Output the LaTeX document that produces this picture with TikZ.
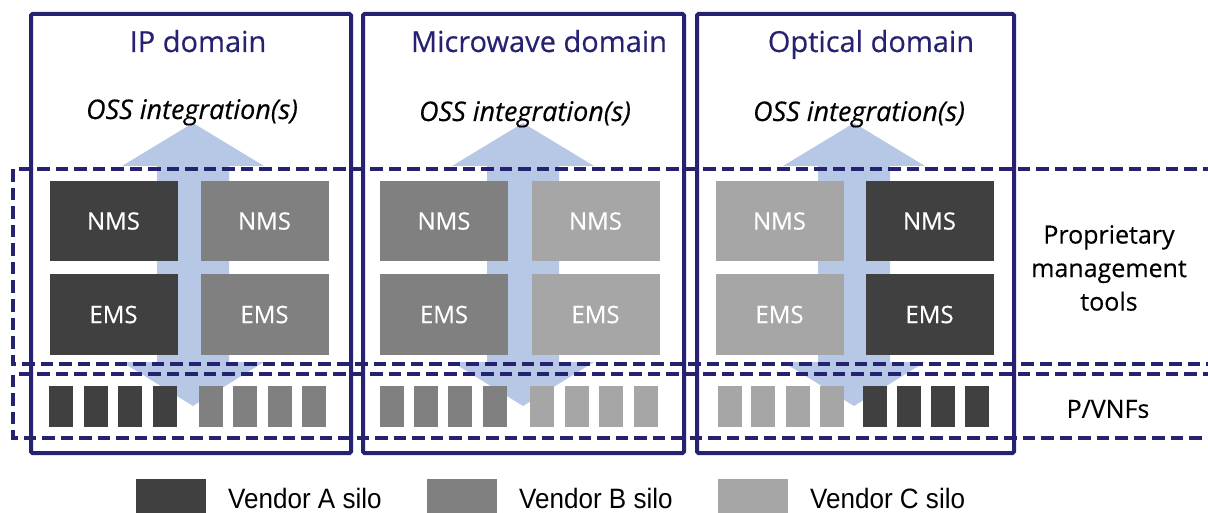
\documentclass[tikz,border=0pt]{standalone}
\usepackage{fontspec}
\setmainfont[FakeBold=0.35]{Open Sans}
\newfontfamily\legendfont[FakeStretch=0.93]{Liberation Sans}
\definecolor{navy}{RGB}{38,34,114}
\definecolor{vendA}{RGB}{64,64,64}
\definecolor{vendB}{RGB}{128,128,128}
\definecolor{vendC}{RGB}{166,166,166}
\definecolor{ossblue}{RGB}{182,200,230}
\tikzset{
  domainbox/.style={draw=navy, line width=4pt, rounded corners=1.5pt},
  layerline/.style={draw=navy, line width=3.8pt, dash pattern=on 12.5pt off 6pt},
  mgmt/.style={rectangle, minimum width=128pt, minimum height=80pt, inner sep=0pt,
    text=white, font=\fontsize{24}{28}\selectfont},
  vnf/.style={rectangle, minimum width=24pt, minimum height=41pt, inner sep=0pt},
  swatch/.style={rectangle, minimum width=70pt, minimum height=34pt, inner sep=0pt},
  domaintitle/.style={anchor=base, inner sep=0pt, text=navy, font=\fontsize{29}{34}\selectfont},
  osslabel/.style={anchor=base, inner sep=0pt, font=\fontsize{27}{32}\selectfont\itshape},
  sidelabel/.style={align=center, font=\fontsize{25}{33.5}\selectfont},
  legendtext/.style={anchor=base west, inner sep=0pt, font=\legendfont\fontsize{28}{32}\selectfont}
}
\begin{document}
\begin{tikzpicture}[x=1pt, y=-1pt]
\useasboundingbox (0,0) rectangle (1208,513);
\begin{scope}
\clip (0,0) rectangle (1208,513);

% double-headed OSS integration arrows, one per domain
\foreach \cx in {193,523,854} {
  \fill[ossblue] (\cx,123) -- (\cx+71,166) -- (\cx+36,166) -- (\cx+36,362)
    -- (\cx+71,362) -- (\cx,406) -- (\cx-71,362) -- (\cx-36,362)
    -- (\cx-36,166) -- (\cx-71,166) -- cycle;
}

% management tools (NMS / EMS)
\node[mgmt, fill=vendA] (ipnmsa) at (113.5,221) {NMS};
\node[mgmt, fill=vendB] (ipnmsb) at (264.5,221) {NMS};
\node[mgmt, fill=vendA] (ipemsa) at (113.5,314.5) {EMS};
\node[mgmt, fill=vendB] (ipemsb) at (264.5,314.5) {EMS};

\node[mgmt, fill=vendB] (mwnmsb) at (444,221) {NMS};
\node[mgmt, fill=vendC] (mwnmsc) at (595.5,221) {NMS};
\node[mgmt, fill=vendB] (mwemsb) at (444,314.5) {EMS};
\node[mgmt, fill=vendC] (mwemsc) at (595.5,314.5) {EMS};

\node[mgmt, fill=vendC] (opnmsc) at (779.5,221) {NMS};
\node[mgmt, fill=vendA] (opnmsa) at (929.5,221) {NMS};
\node[mgmt, fill=vendC] (opemsc) at (779.5,314.5) {EMS};
\node[mgmt, fill=vendA] (opemsa) at (929.5,314.5) {EMS};

% physical / virtual network functions
\foreach \x [count=\i] in {61,96,130,165} \node[vnf, fill=vendA] (ipvnfa\i) at (\x,406.5) {};
\foreach \x [count=\i] in {211,245,280,314} \node[vnf, fill=vendB] (ipvnfb\i) at (\x,406.5) {};
\foreach \x [count=\i] in {392,426,460,495} \node[vnf, fill=vendB] (mwvnfb\i) at (\x,406.5) {};
\foreach \x [count=\i] in {542,577,611,646} \node[vnf, fill=vendC] (mwvnfc\i) at (\x,406.5) {};
\foreach \x [count=\i] in {730,763,798,832} \node[vnf, fill=vendC] (opvnfc\i) at (\x,406.5) {};
\foreach \x [count=\i] in {875,909,943,977} \node[vnf, fill=vendA] (opvnfa\i) at (\x,406.5) {};

% layer outlines
\draw[layerline] (1215,169) -- (13,169) -- (13,364) -- (1215,364);
\draw[layerline] (1215,374) -- (13,374) -- (13,438) -- (1215,438);

% domain outlines
\draw[domainbox] (31,14) rectangle (351,453);
\draw[domainbox] (363,14) rectangle (684,453);
\draw[domainbox] (697,14) rectangle (1014,453);
\end{scope}

% domain titles
\node[domaintitle] (iptitle) at (198,52) {IP domain};
\node[domaintitle] (mwtitle) at (539,52) {Microwave domain};
\node[domaintitle] (optitle) at (871,52) {Optical domain};

\node[osslabel] (iposs) at (192,119) {OSS integration(s)};
\node[osslabel] (mwoss) at (525,121) {OSS integration(s)};
\node[osslabel] (oposs) at (859,121) {OSS integration(s)};

% layer labels
\node[sidelabel] (mgmtlabel) at (1109,268) {Proprietary\\management\\tools};
\node[sidelabel] (vnflabel) at (1108,409) {P/VNFs};

% legend
\node[swatch, fill=vendA] (swa) at (171,496) {};
\node[swatch, fill=vendB] (swb) at (462,496) {};
\node[swatch, fill=vendC] (swc) at (753,496) {};
\node[legendtext] (lga) at (228,508) {Vendor A silo};
\node[legendtext] (lgb) at (519,508) {Vendor B silo};
\node[legendtext] (lgc) at (810,508) {Vendor C silo};
\end{tikzpicture}
\end{document}
